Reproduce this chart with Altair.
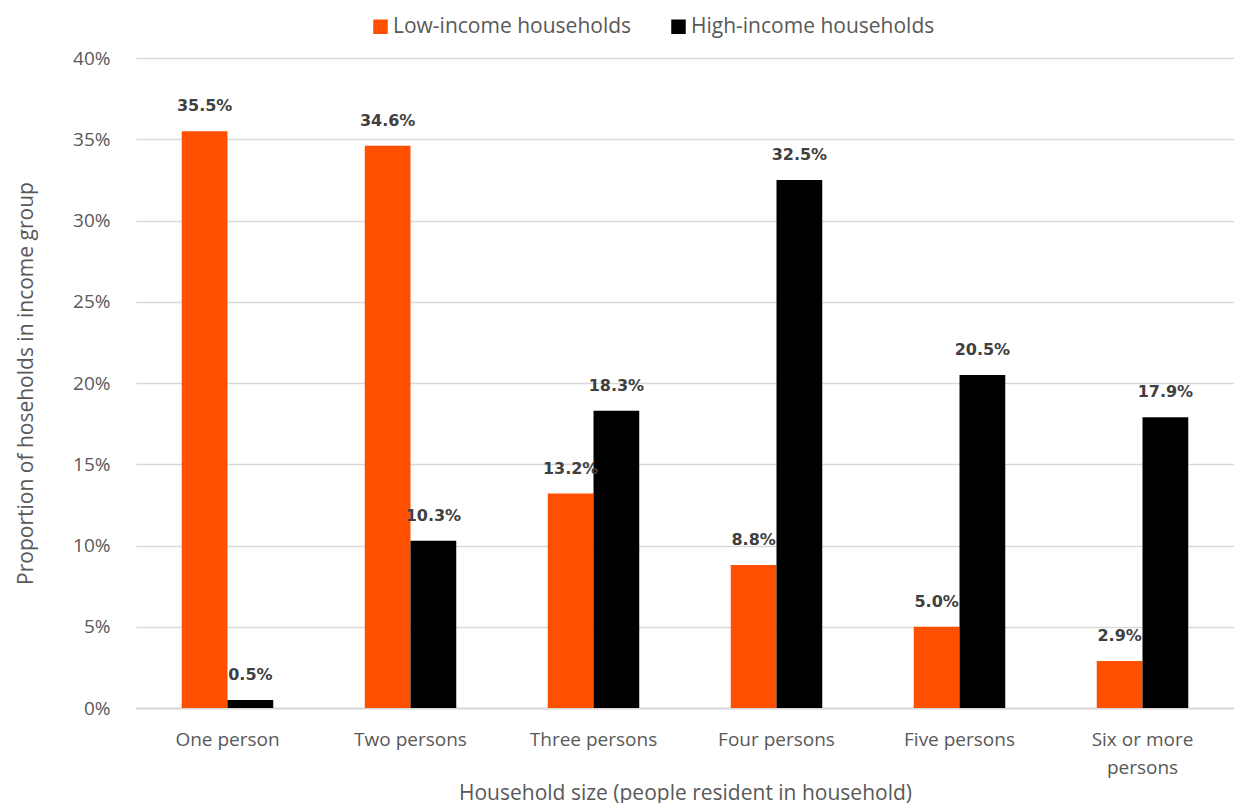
import altair as alt
import pandas as pd

categories = ["One person", "Two persons", "Three persons", "Four persons", "Five persons", "Six or more persons"]
series = ["Low-income households", "High-income households"]
low_income = [35.5, 34.6, 13.2, 8.8, 5.0, 2.9]
high_income = [0.5, 10.3, 18.3, 32.5, 20.5, 17.9]
y_ticks = [0, 5, 10, 15, 20, 25, 30, 35, 40]
colors = ["#FF5000", "#000000"]

rows = []
for c, lo, hi in zip(categories, low_income, high_income):
    rows.append({"size": c, "group": series[0], "value": lo / 100})
    rows.append({"size": c, "group": series[1], "value": hi / 100})
df = pd.DataFrame(rows)

FONT = "Open Sans"
GREY = "#595959"

x = alt.X("size:N", sort=categories,
          scale=alt.Scale(paddingInner=0.5, paddingOuter=0.25),
          axis=alt.Axis(title="Household size (people resident in household)",
                        labelAngle=0, labelFontSize=19, labelColor=GREY, labelFont=FONT,
                        labelPadding=22, labelLineHeight=28,
                        labelExpr="datum.value == 'Six or more persons' ? ['Six or more', 'persons'] : datum.value",
                        ticks=False, domainColor="#D9D9D9", domainWidth=2,
                        titleFont=FONT, titleFontSize=21, titleColor=GREY, titleFontWeight="normal",
                        titlePadding=5))
xoff = alt.XOffset("group:N", sort=series, scale=alt.Scale(paddingInner=0))
y = alt.Y("value:Q", scale=alt.Scale(domain=[0, 0.4]),
          axis=alt.Axis(format=".0%", values=[v / 100 for v in y_ticks],
                        labelFontSize=19, labelColor=GREY, labelFont=FONT, labelPadding=26,
                        domain=False, ticks=False, gridColor="#D9D9D9", gridWidth=1.5,
                        title="Proportion of  hoseholds in income group",
                        titleFont=FONT, titleFontSize=21, titleColor=GREY, titleFontWeight="normal",
                        titlePadding=36))

base = alt.Chart(df).encode(x=x, xOffset=xoff, y=y)

bars = base.mark_bar().encode(
    color=alt.Color("group:N", sort=series, scale=alt.Scale(domain=series, range=colors),
                    legend=alt.Legend(title=None, orient="none", direction="horizontal",
                                      legendX=234, legendY=-42, symbolType="square", symbolSize=210,
                                      symbolStrokeWidth=0, labelFontSize=21, labelFont=FONT,
                                      labelLimit=0, labelColor=GREY, columnPadding=36, labelOffset=2)),
)

labels = base.mark_text(baseline="middle", dy=-25, fontWeight="bold", fontSize=16,
                        color="#404040", font="DejaVu Sans").encode(
    text=alt.Text("value:Q", format=".1%"),
)

chart = alt.layer(bars, labels).properties(
    width=1098, height=650,
    padding={"left": 7, "top": 8, "right": 0, "bottom": 0},
).configure_view(stroke=None)

chart.save("out.html", embed_options={"renderer": "svg", "actions": False})
